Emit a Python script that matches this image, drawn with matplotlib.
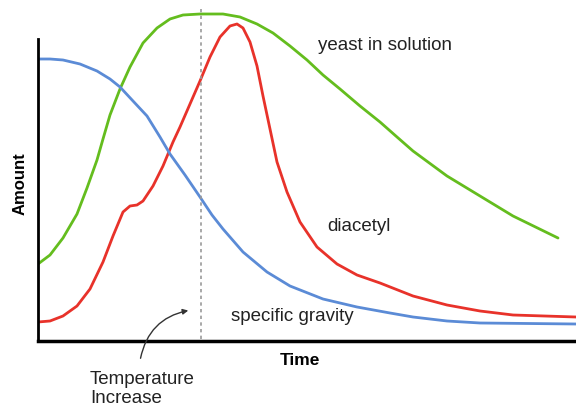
import matplotlib
matplotlib.use('Agg')
import matplotlib.pyplot as plt

plt.rcParams['font.family'] = ['Liberation Sans', 'DejaVu Sans']

# time / amount in arbitrary units
grav_t = [0, 12, 25, 42, 59, 72, 82, 95, 109, 122, 132, 147, 162, 174, 185, 205, 229, 252, 285, 319,
          352, 375, 409, 442, 538]
grav_a = [282, 282, 281, 277, 270, 262, 254, 240, 225, 204, 187, 166, 144, 126, 112, 89, 69, 55, 42, 34,
          28, 24, 20, 18, 17]

yeast_t = [0, 12, 25, 39, 49, 59, 65, 72, 82, 92, 105, 119, 132, 145, 162, 185, 202, 219, 235, 252,
           269, 285, 302, 322, 342, 359, 375, 409, 442, 475, 520]
yeast_a = [77, 86, 103, 127, 153, 181, 202, 226, 252, 274, 298, 313, 322, 326, 327, 327, 324, 317, 308, 295,
           281, 266, 252, 235, 219, 204, 190, 165, 145, 125, 103]

diac_t = [0, 12, 25, 39, 52, 65, 75, 85, 92, 99, 105, 115, 125, 135, 142, 152, 162, 172, 182, 192,
          199, 205, 212, 219, 225, 232, 239, 249, 262, 279, 299, 319, 342, 375, 409, 442, 475, 538]
diac_a = [19, 20, 25, 35, 52, 79, 105, 129, 135, 136, 140, 155, 175, 199, 214, 237, 260, 284, 304, 315,
          317, 313, 299, 275, 245, 212, 179, 149, 119, 94, 77, 66, 58, 45, 36, 30, 26, 24]

temp_t = 163

fig = plt.figure(figsize=(5.76, 4.06), dpi=100)
ax = fig.add_axes([38 / 576, 64 / 406, 538 / 576, 342 / 406])

ax.plot(yeast_t, yeast_a, color='#64bd1e', lw=2, solid_capstyle='round', solid_joinstyle='round')
ax.plot(diac_t, diac_a, color='#e8322a', lw=2, solid_capstyle='round', solid_joinstyle='round')
ax.plot(grav_t, grav_a, color='#5b8bd6', lw=2, solid_capstyle='round', solid_joinstyle='round')
ax.plot([temp_t, temp_t], [2, 334], color='#999999', lw=1.2, ls=(0, (2, 2)))

ax.set_xlim(0, 538)
ax.set_ylim(0, 342)
ax.set_xticks([])
ax.set_yticks([])
for s in ['top', 'right']:
    ax.spines[s].set_visible(False)
ax.spines['left'].set_linewidth(2)
ax.spines['bottom'].set_linewidth(2.5)
ax.spines['left'].set_bounds(0, 302)

txt = '#222222'
ax.text(280, 297, 'yeast in solution', fontsize=13.5, color=txt, va='center')
ax.text(289, 115, 'diacetyl', fontsize=13.5, color=txt, va='center')
ax.text(193, 25, 'specific gravity', fontsize=13.5, color=txt, va='center')
ax.text(262, -19, 'Time', fontsize=12.5, fontweight='bold', ha='center', va='center')
ax.text(-18, 158, 'Amount', fontsize=12, fontweight='bold', ha='center', va='center', rotation=90)

ax.annotate('', xy=(153, 31), xytext=(102, -20), annotation_clip=False,
            arrowprops=dict(arrowstyle='-|>', color='#333333', lw=1,
                            mutation_scale=8, connectionstyle='arc3,rad=-0.35'))
ax.text(52, -42, 'Temperature', fontsize=13.5, color=txt, va='baseline', ha='left')
ax.text(52, -61, 'Increase', fontsize=13.5, color=txt, va='baseline', ha='left')

fig.savefig('out.png', dpi=100)
